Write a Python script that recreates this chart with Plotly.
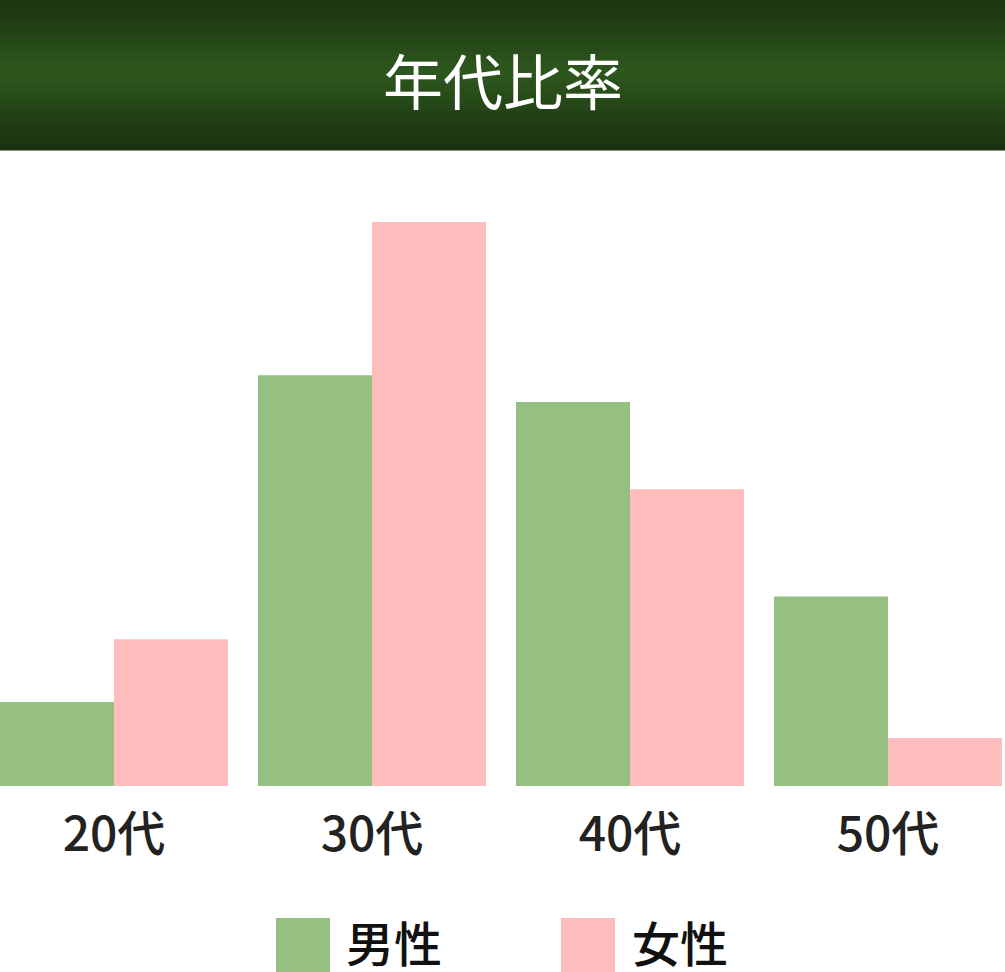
import plotly.graph_objects as go

# data (percent by age group)
ages = ["20代", "30代", "40代", "50代"]
male = [7.9, 38.6, 36.1, 17.8]
female = [13.8, 53.0, 27.9, 4.5]
series_names = ["男性", "女性"]
title_text = "年代比率"

GREEN = "#96bf82"
PINK = "#ffbcbc"
FONT = "Noto Sans CJK JP"
W, H = 1005, 972
TOP, BOTTOM = 150, 786  # plot area in pixels

def py(p):
    # pixel row -> paper y
    return (BOTTOM - p) / (BOTTOM - TOP)

def px(p):
    return p / W

fig = go.Figure()
fig.add_trace(go.Bar(x=ages, y=male, name=series_names[0], marker_color=GREEN,
                     marker_line_width=0, showlegend=False))
fig.add_trace(go.Bar(x=ages, y=female, name=series_names[1], marker_color=PINK,
                     marker_line_width=0, showlegend=False))

# header band, vertical gradient
shapes = []
dark = (27, 50, 16)
light = (46, 88, 30)
n = 50
for i in range(n):
    y0 = 150 * i / n
    y1 = 150 * (i + 1) / n
    mid = (y0 + y1) / 2
    t = max(0.0, 1 - abs(mid - 72) / 75)
    c = tuple(int(dark[k] + (light[k] - dark[k]) * t) for k in range(3))
    shapes.append(dict(type="rect", xref="paper", yref="paper",
                       x0=0, x1=1, y0=py(y1 + 0.5), y1=py(y0),
                       fillcolor="rgb(%d,%d,%d)" % c, line_width=0, layer="below"))

# legend squares
for x0, col in [(276, GREEN), (561, PINK)]:
    shapes.append(dict(type="rect", xref="paper", yref="paper",
                       x0=px(x0), x1=px(x0 + 54), y0=py(972), y1=py(918),
                       fillcolor=col, line_width=0))

annotations = [
    dict(text=title_text, x=0.5, y=py(78), xref="paper", yref="paper",
         xanchor="center", yanchor="middle", showarrow=False,
         font=dict(size=60, color="white", family=FONT)),
    dict(text=series_names[0], x=px(344), y=py(941), xref="paper", yref="paper",
         xanchor="left", yanchor="middle", showarrow=False,
         font=dict(size=48, color="#111", family=FONT, weight=500)),
    dict(text=series_names[1], x=px(630), y=py(941), xref="paper", yref="paper",
         xanchor="left", yanchor="middle", showarrow=False,
         font=dict(size=48, color="#111", family=FONT, weight=500)),
]

fig.update_layout(
    width=W, height=H,
    margin=dict(l=0, r=0, t=TOP, b=H - BOTTOM, pad=0),
    plot_bgcolor="white", paper_bgcolor="white",
    barmode="group", bargap=30 / 258, bargroupgap=0,
    shapes=shapes, annotations=annotations,
    xaxis=dict(range=[-114 / 258, (1005 - 114) / 258], showgrid=False, zeroline=False,
               showline=False, ticks="", ticklabelstandoff=16,
               tickfont=dict(size=48, color="#222", family=FONT, weight=500)),
    yaxis=dict(range=[0, 636 / 10.64], visible=False),
)

fig.write_html("out.html", config={"displayModeBar": False},
               post_script="document.body.style.margin='0';")
